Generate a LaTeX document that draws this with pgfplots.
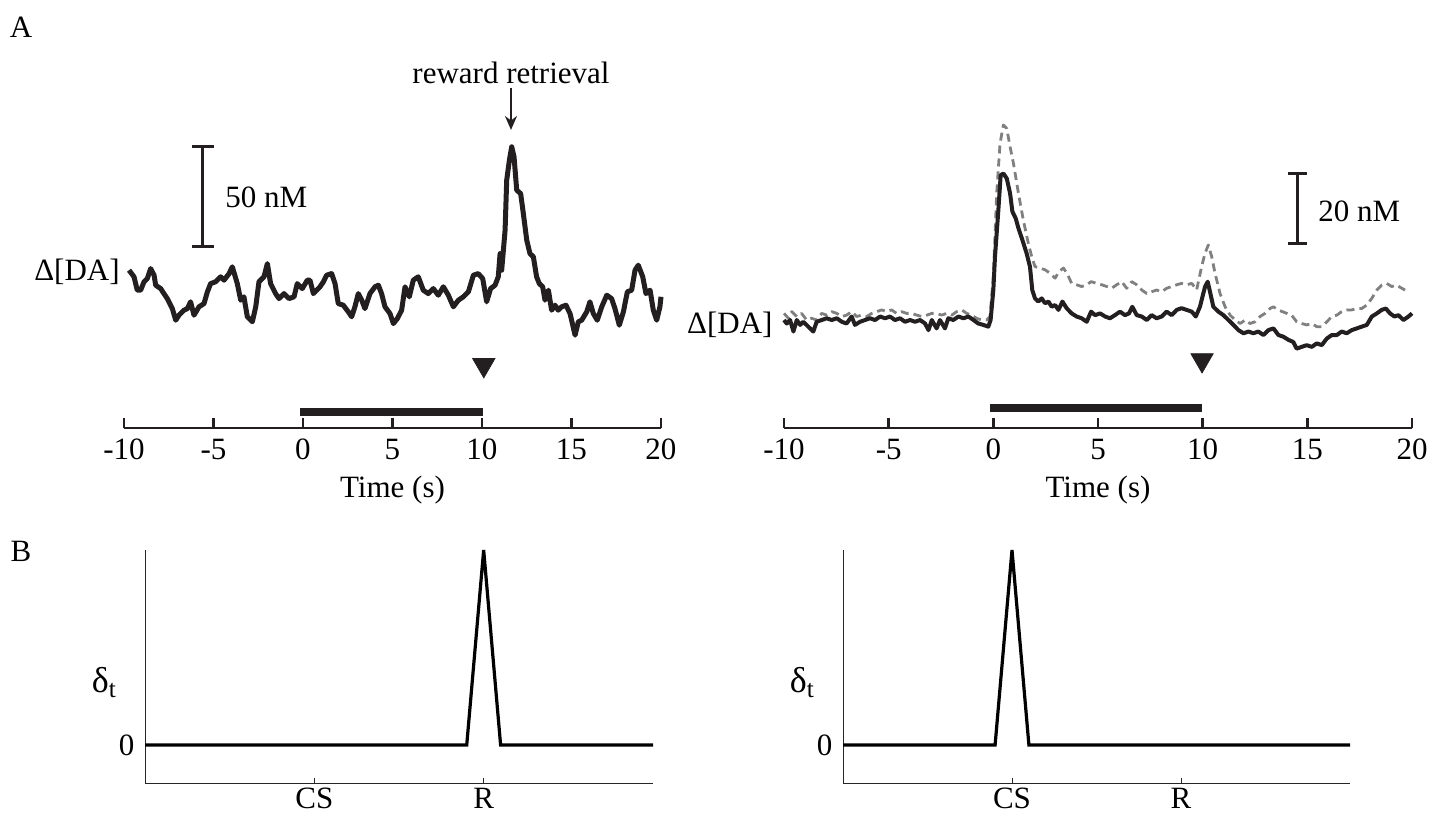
\documentclass[border=0pt]{standalone}
\usepackage{fontspec}
\setmainfont{Liberation Serif}
\usepackage{pgfplots}
\usepackage{pgfplotstable}
\pgfplotsset{compat=1.18}
\usetikzlibrary{arrows.meta}
\definecolor{ink}{RGB}{35,31,32}
\definecolor{dashgray}{RGB}{128,128,128}

% left panel trace (nM, relative to baseline)
\pgfplotstableread{
t v
-9.72 9.9
-9.44 6.6
-9.26 -0.1
-9.07 -0.1
-8.88 4.1
-8.70 5.7
-8.51 10.7
-8.32 7.4
-8.23 2.4
-7.95 0.7
-7.77 -1.8
-7.58 -4.3
-7.30 -9.3
-7.11 -15.1
-6.93 -12.6
-6.65 -10.1
-6.46 -9.3
-6.28 -5.9
-6.09 -12.6
-5.81 -8.4
-5.53 -6.8
-5.34 -0.9
-5.16 3.2
-4.88 4.1
-4.60 6.6
-4.41 4.9
-4.13 8.2
-3.95 11.6
-3.67 3.2
-3.48 -5.1
-3.30 -3.4
-3.11 -13.4
-2.83 -15.9
-2.64 -8.4
-2.46 4.1
-2.18 6.6
-1.99 13.2
-1.81 3.2
-1.53 -1.8
-1.34 -4.3
-1.06 -1.8
-0.78 -4.3
-0.50 -3.4
-0.32 3.2
-0.04 0.7
0.24 4.9
0.39 4.9
0.58 -1.8
0.76 -0.1
0.95 1.6
1.14 4.1
1.32 7.4
1.60 8.2
1.79 3.2
1.97 -6.8
2.25 -7.6
2.53 -10.9
2.72 -13.4
2.90 -8.4
3.09 -1.8
3.28 -5.1
3.46 -9.3
3.74 -1.8
4.02 1.6
4.21 2.4
4.39 -1.8
4.58 -8.4
4.86 -11.8
5.05 -16.8
5.27 -14.3
5.51 -10.1
5.70 1.6
5.94 -3.4
6.16 4.9
6.44 6.6
6.72 -0.1
7.00 -1.8
7.28 0.7
7.56 -2.6
7.84 1.6
8.12 -2.6
8.40 -8.4
8.68 -5.1
8.96 -3.4
9.24 -0.9
9.52 7.4
9.79 8.2
10.04 5.7
10.26 -5.9
10.48 0.7
10.73 2.4
10.91 6.6
11.01 18.2
11.10 9.9
11.29 29.9
11.38 54.9
11.53 64.9
11.66 71.6
11.79 66.6
11.94 49.9
12.16 48.2
12.31 38.2
12.50 24.9
12.68 18.2
12.87 16.6
13.05 6.6
13.20 3.2
13.39 1.6
13.52 -5.1
13.71 -0.1
13.89 -10.1
14.08 -7.6
14.26 -10.1
14.45 -8.4
14.69 -7.6
14.92 -11.8
15.20 -22.6
15.38 -15.9
15.57 -15.1
15.85 -10.9
16.03 -5.9
16.22 -11.8
16.44 -15.1
16.69 -8.4
16.97 -2.6
17.24 -4.3
17.43 -9.3
17.67 -17.6
17.90 -10.9
18.12 -0.9
18.36 -0.1
18.55 9.9
18.73 12.4
18.98 6.6
19.16 -1.8
19.39 -0.1
19.57 -10.1
19.76 -15.1
19.94 -8.4
20.00 -3.4
}\leftDA

% right panel, solid trace
\pgfplotstableread{
t v
-10.00 0
-9.87 -1.0
-9.71 0
-9.55 -3.3
-9.39 0
-9.23 -1.4
-9.08 -0.5
-8.84 -1.9
-8.60 -3.3
-8.44 -0.5
-8.20 0
-7.96 0.5
-7.72 0
-7.48 0.5
-7.24 -0.5
-7.01 -1.0
-6.77 1.0
-6.61 -1.4
-6.37 -0.5
-6.13 0
-5.89 0.5
-5.65 0
-5.41 1.0
-5.17 0.5
-4.94 1.0
-4.70 0
-4.46 0.5
-4.22 -0.5
-3.98 0
-3.74 -0.5
-3.50 0
-3.26 -1.0
-3.10 -2.9
-2.94 0
-2.71 -2.4
-2.55 0
-2.31 -2.4
-2.15 0.5
-1.91 0
-1.67 1.0
-1.43 0.5
-1.19 1.0
-0.95 0
-0.72 -1.0
-0.48 -1.4
-0.24 -1.9
-0.13 0
0.00 8.6
0.08 18.2
0.24 31.5
0.35 41.5
0.48 42.0
0.64 40.6
0.80 36.3
0.91 31.1
1.07 29.1
1.20 26.3
1.39 22.9
1.59 19.1
1.75 15.3
1.86 8.6
1.99 6.2
2.15 5.3
2.31 6.2
2.47 4.8
2.63 5.3
2.79 3.8
2.95 4.3
3.11 2.9
3.30 5.3
3.50 3.4
3.74 1.9
3.98 1.0
4.22 0.5
4.46 -0.5
4.67 2.4
4.86 1.4
5.10 1.9
5.34 1.0
5.57 0.5
5.81 1.4
6.05 2.4
6.29 1.4
6.48 1.9
6.64 3.8
6.85 1.4
7.09 1.0
7.33 0
7.56 1.4
7.80 0.5
8.04 1.0
8.28 2.4
8.52 1.4
8.76 2.9
8.99 3.4
9.23 2.9
9.48 2.4
9.67 1.0
9.87 3.8
10.11 9.5
10.24 11.0
10.35 8.1
10.51 3.8
10.75 2.4
10.99 1.4
11.23 0
11.47 -1.4
11.71 -2.9
11.95 -3.8
12.19 -3.3
12.42 -3.8
12.66 -3.3
12.90 -4.3
13.14 -2.9
13.38 -2.4
13.62 -4.3
13.86 -4.8
14.10 -5.7
14.33 -6.3
14.49 -8.2
14.73 -7.7
14.97 -7.2
15.21 -7.7
15.45 -6.7
15.69 -7.2
15.93 -5.3
16.17 -4.3
16.41 -4.3
16.64 -3.3
16.88 -3.8
17.12 -2.9
17.36 -2.4
17.60 -1.9
17.84 -1.4
18.08 1.0
18.32 1.9
18.55 2.9
18.75 3.3
18.95 1.9
19.16 1.0
19.35 1.4
19.59 0
19.83 1.0
20.00 1.9
}\rightSolid

% right panel, dashed trace
\pgfplotstableread{
t v
-10.00 1.9
-9.79 0.5
-9.63 2.4
-9.39 1.0
-9.16 1.9
-8.92 0
-8.68 0.5
-8.44 0
-8.20 1.9
-7.96 1.4
-7.72 2.4
-7.48 1.9
-7.24 1.0
-7.01 1.4
-6.77 2.4
-6.53 1.0
-6.29 1.4
-6.05 1.0
-5.81 1.9
-5.57 2.4
-5.33 2.9
-5.10 2.4
-4.86 2.9
-4.62 1.9
-4.38 2.4
-4.14 1.9
-3.90 1.9
-3.66 1.4
-3.42 1.0
-3.18 1.4
-2.94 1.9
-2.71 1.9
-2.47 1.4
-2.23 1.9
-1.99 1.4
-1.75 2.4
-1.51 2.9
-1.27 1.9
-1.04 1.4
-0.80 0.5
-0.56 0
-0.32 0
-0.16 1.0
0.00 12.5
0.16 36.3
0.32 50.6
0.48 55.9
0.64 54.9
0.80 49.7
0.96 44.9
1.20 36.3
1.43 28.7
1.67 22.0
1.83 18.2
1.99 15.3
2.23 14.9
2.47 14.4
2.71 13.4
2.95 12.0
3.14 13.9
3.35 14.9
3.55 13.0
3.74 10.5
3.98 10.1
4.22 9.6
4.46 10.1
4.67 11.0
4.94 10.5
5.18 10.1
5.42 9.6
5.65 9.1
5.89 10.1
6.13 11.0
6.37 9.1
6.61 11.0
6.85 10.1
7.09 8.6
7.33 7.6
7.56 8.1
7.80 8.6
8.04 8.1
8.28 9.1
8.52 9.6
8.76 10.1
8.99 10.5
9.23 10.1
9.48 10.5
9.71 8.6
9.95 15.3
10.11 19.1
10.27 21.5
10.43 18.2
10.59 13.4
10.83 7.6
11.07 3.8
11.31 1.4
11.55 0
11.79 -1.0
12.03 0
12.26 -1.0
12.50 -0.5
12.74 1.0
12.98 1.9
13.22 3.3
13.38 3.8
13.59 2.9
13.81 2.4
14.02 1.9
14.25 1.4
14.49 -0.5
14.73 -1.0
14.97 -1.4
15.21 -1.0
15.45 -1.9
15.69 -1.9
15.93 -0.5
16.17 1.0
16.41 1.4
16.64 2.4
16.88 2.9
17.12 2.9
17.36 3.3
17.60 3.3
17.84 4.3
18.08 6.2
18.32 8.6
18.55 10.0
18.79 10.5
19.03 9.6
19.27 10.0
19.51 9.1
19.67 8.6
}\rightDashed

\pgfplotstableread{
x y
0 0
1.9 0
2 1
2.1 0
3 0
}\deltaR

\pgfplotstableread{
x y
0 0
0.9 0
1 1
1.1 0
3 0
}\deltaCS

\pgfplotsset{
  toppanel/.style={
    anchor=south west, scale only axis,
    xmin=-10, xmax=20,
    axis x line*=bottom, axis y line=none,
    x axis line style={line width=1.3pt, color=ink},
    xtick={-10,-5,...,20}, xticklabels={-10,-5,0,5,10,15,20},
    tick align=inside, major tick length=5pt,
    x tick style={line width=1.3pt, color=ink},
    xlabel={Time (s)},
    xlabel style={at={(axis description cs:0.5,0)}, anchor=center, yshift=-31pt},
    clip=false,
  },
  botpanel/.style={
    anchor=south west, scale only axis,
    xmin=0, xmax=3, ymin=-0.195, ymax=1,
    axis lines*=left,
    axis line style={line width=0.5pt, color=black!85},
    xtick={1,2}, xticklabels={CS,R},
    xticklabel style={yshift=3pt},
    ytick={0}, yticklabels={0},
    tick align=inside, major tick length=2.5pt,
    x tick style={line width=0.5pt, color=black!85},
    y tick style={draw=none},
    clip=false,
  },
}

\begin{document}
\fontsize{15.5}{18}\selectfont
\begin{tikzpicture}
\useasboundingbox (0pt,0pt) rectangle (720pt,407.5pt);

\node at (10.5pt,394pt) {A};
\node at (10.5pt,132pt) {B};

% ---------- top left ----------
\begin{axis}[toppanel, at={(62pt,193.5pt)}, width=268.5pt, height=159pt,
  ymin=-69, ymax=90]
\addplot[ink, line width=2.5pt, line join=round] table[x=t,y=v] {\leftDA};
\addplot[ink, line width=4pt] coordinates {(-0.17,-61) (10.05,-61)};
\addplot[only marks, mark=triangle*, mark size=6.5pt,
  mark options={rotate=180, fill=ink, draw=ink, line width=0.3pt}] coordinates {(10.1,-37.5)};
\addplot[ink, line width=1.5pt] coordinates {(-5.59,21.5) (-5.59,71.5)};
\addplot[ink, line width=1.5pt] coordinates {(-6.2,21.5) (-4.98,21.5)};
\addplot[ink, line width=1.5pt] coordinates {(-6.2,71.5) (-4.98,71.5)};
\node[anchor=west, inner sep=0pt] at (axis cs:-4.36,46.5) {50 nM};
\node[anchor=east, inner sep=0pt] at (axis cs:-10.22,9) {Δ[DA]};
\node at (axis cs:11.62,108.5) {reward retrieval};
\draw[-{Stealth[length=7pt,width=6pt]}, line width=1pt, ink] (axis cs:11.62,101) -- (axis cs:11.62,80);
\end{axis}

% ---------- top right ----------
\begin{axis}[toppanel, at={(392pt,193.5pt)}, width=314pt, height=159pt,
  ymin=-30.95, ymax=60.2]
\addplot[dashgray, line width=1.4pt, dash pattern=on 4pt off 2.5pt, line join=round] table[x=t,y=v] {\rightDashed};
\addplot[ink, line width=2pt, line join=round] table[x=t,y=v] {\rightSolid};
\addplot[ink, line width=4pt] coordinates {(-0.16,-25.2) (9.97,-25.2)};
\addplot[only marks, mark=triangle*, mark size=6.5pt,
  mark options={rotate=180, fill=ink, draw=ink, line width=0.3pt}] coordinates {(9.97,-11.5)};
\addplot[ink, line width=1.5pt] coordinates {(14.51,22) (14.51,42)};
\addplot[ink, line width=1.5pt] coordinates {(14.06,22) (14.96,22)};
\addplot[ink, line width=1.5pt] coordinates {(14.06,42) (14.96,42)};
\node[anchor=west, inner sep=0pt] at (axis cs:15.51,31.2) {20 nM};
\node[anchor=east, inner sep=0pt] at (axis cs:-10.53,-1.4) {Δ[DA]};
\end{axis}

% ---------- bottom left ----------
\begin{axis}[botpanel, at={(72.5pt,16pt)}, width=254pt, height=116.5pt]
\addplot[black, line width=1.6pt] table {\deltaR};
\node[font=\fontsize{18}{20}\selectfont] at (axis cs:-0.24,0.32) {δ\textsubscript{t}};
\end{axis}

% ---------- bottom right ----------
\begin{axis}[botpanel, at={(421.5pt,16pt)}, width=253.5pt, height=116.5pt]
\addplot[black, line width=1.6pt] table {\deltaCS};
\node[font=\fontsize{18}{20}\selectfont] at (axis cs:-0.24,0.32) {δ\textsubscript{t}};
\end{axis}
\end{tikzpicture}
\end{document}
